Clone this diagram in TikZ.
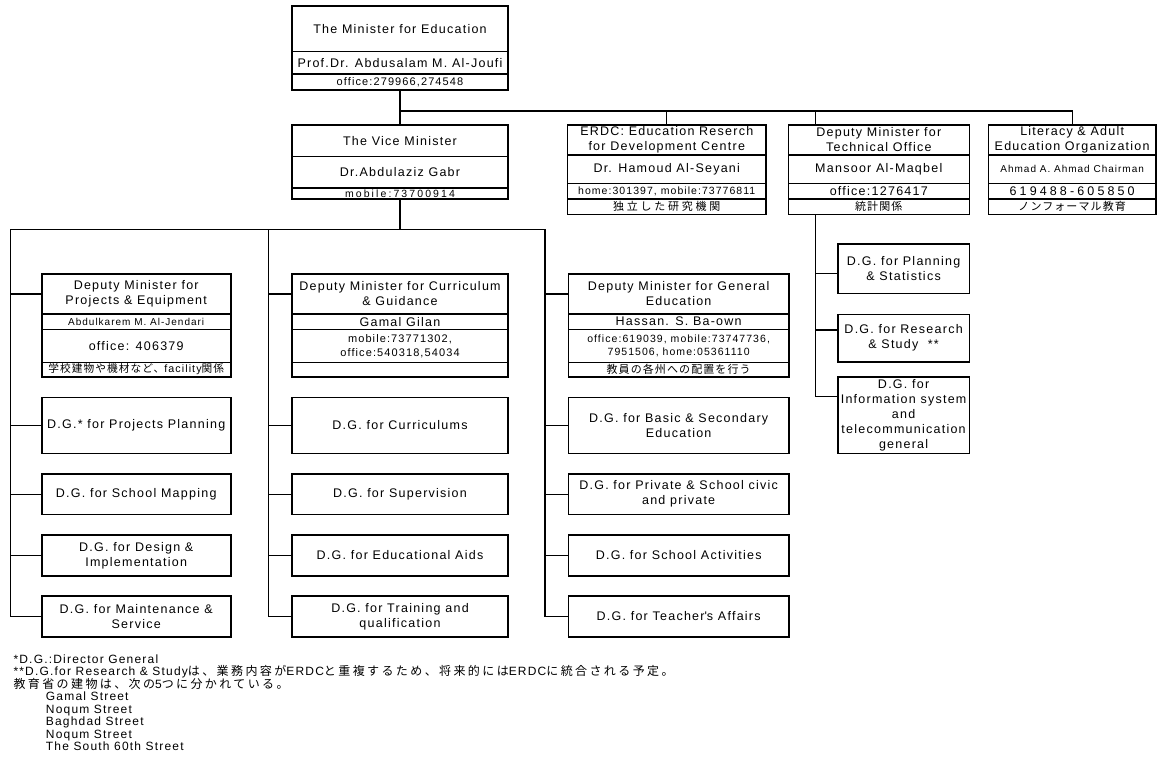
\documentclass[tikz,border=0pt]{standalone}
\usepackage{fontspec}
\setmainfont{Liberation Sans}[LetterSpace=10]
\newfontfamily\jpfont{Noto Sans CJK JP}[LetterSpace=10]
\newfontfamily\jpwide{Noto Sans CJK JP}[LetterSpace=20]
\usetikzlibrary{positioning}
\newcommand\fsz[2]{\fontsize{#1}{#2}\selectfont}

\tikzset{
  cell/.style={draw, line width=1.1pt, minimum width=#1, inner sep=0.5pt, outer sep=0pt, align=center, font=\fsz{12.5}{15}},
  dgbox/.style={cell=#1, line width=1.6pt},
  boxframe/.style={draw, line width=1.6pt},
  wire/.style={draw, line width=1.3pt, line cap=rect},
  telfont/.style={font=\fsz{10.5}{12.7}},
  tinyfont/.style={font=\fsz{10}{11}},
  jptext/.style={font=\fsz{11}{12}\jpfont},
  note/.style={anchor=base west, inner sep=0pt, font=\fsz{12}{12.5}},
}

\begin{document}
\begin{tikzpicture}[x=1pt, y=-1pt]
\useasboundingbox[fill=white] (0,0) rectangle (1157,774);

% minister
\node[cell=216pt, minimum height=45.7pt, anchor=north] (minTitle) at (400,6) {The Minister for Education};
\node[cell=216pt, minimum height=22.3pt, below=0pt of minTitle] (minName) {Prof.Dr. Abdusalam M. Al-Joufi};
\node[cell=216pt, minimum height=16pt, below=0pt of minName, font=\fsz{11}{12}] (minTel) {office:279966,274548};
\draw[boxframe] (minTitle.north west) rectangle (minTel.south east);

% vice minister
\node[cell=216pt, minimum height=31.5pt, anchor=north] (viceTitle) at (400,125) {The Vice Minister};
\node[cell=216pt, minimum height=31.5pt, below=0pt of viceTitle] (viceName) {Dr.Abdulaziz Gabr};
\node[cell=216pt, minimum height=11pt, below=0pt of viceName, font=\fsz{10.5}{11}\addfontfeature{LetterSpace=20}] (viceTel) {mobile:73700914};
\draw[boxframe] (viceTitle.north west) rectangle (viceTel.south east);

% ERDC
\node[cell=198.5pt, minimum height=30pt, anchor=north] (erdcTitle) at (666.75,125) {ERDC: Education Reserch\\for Development Centre};
\node[cell=198.5pt, minimum height=28.5pt, below=0pt of erdcTitle] (erdcName) {Dr. Hamoud Al-Seyani};
\node[cell=198.5pt, minimum height=15.5pt, below=0pt of erdcName, telfont] (erdcTel) {home:301397, mobile:73776811};
\node[cell=198.5pt, minimum height=15.5pt, below=0pt of erdcTel, font=\fsz{11}{12}\jpfont\addfontfeature{LetterSpace=25}] (erdcJp) {独立した研究機関};
\draw[boxframe] (erdcTitle.north west) rectangle (erdcJp.south east);

% technical office
\node[cell=181pt, minimum height=30pt, anchor=north] (techTitle) at (878.8,125) {Deputy Minister for\\Technical Office};
\node[cell=181pt, minimum height=28.5pt, below=0pt of techTitle] (techName) {Mansoor Al-Maqbel};
\node[cell=181pt, minimum height=15.5pt, below=0pt of techName] (techTel) {office:1276417};
\node[cell=181pt, minimum height=15.5pt, below=0pt of techTel, jptext] (techJp) {統計関係};
\draw[boxframe] (techTitle.north west) rectangle (techJp.south east);

% literacy
\node[cell=167.7pt, minimum height=30pt, anchor=north] (litTitle) at (1072.15,125) {Literacy \& Adult\\Education Organization};
\node[cell=167.7pt, minimum height=28.5pt, below=0pt of litTitle, tinyfont] (litName) {Ahmad A. Ahmad Chairman};
\node[cell=167.7pt, minimum height=15.5pt, below=0pt of litName, font=\fsz{12.5}{15}\addfontfeature{LetterSpace=25}] (litTel) {619488-605850};
\node[cell=167.7pt, minimum height=15.5pt, below=0pt of litTel, jptext] (litJp) {ノンフォーマル教育};
\draw[boxframe] (litTitle.north west) rectangle (litJp.south east);

% top bus
\coordinate (hub) at (400,111);
\coordinate (techX) at (815.7,111);
\draw[wire] (minTel.south) -- (viceTitle.north);
\draw[wire] (hub) -| (litTitle.north);
\draw[wire] (hub -| erdcTitle.north) -- (erdcTitle.north);
\draw[wire] (techX) -- (techX |- techTitle.north);

% technical office D.G.s
\node[dgbox=131.8pt, minimum height=49.3pt, anchor=north] (dgPlan) at (903.6,244) {D.G. for Planning\\\& Statistics};
\node[dgbox=131.8pt, minimum height=47.4pt, anchor=north] (dgRes) at (903.6,314.3) {D.G. for Research\\\& Study~~**};
\node[dgbox=131.8pt, minimum height=76.6pt, anchor=north] (dgInfo) at (903.6,376.7) {D.G. for\\Information system\\and\\telecommunication\\general};
\coordinate (planIn) at ([yshift=-4.6pt]dgPlan.west);
\coordinate (resIn) at ([yshift=8pt]dgRes.west);
\coordinate (infoIn) at ([yshift=-20pt]dgInfo.north west);
\draw[wire] (techX |- techJp.south) |- (infoIn);
\draw[wire] (planIn -| techX) -- (planIn);
\draw[wire] (resIn -| techX) -- (resIn);

% lower bus
\coordinate (deptBus) at (400,229.5);
\coordinate (col1) at (10.7,229.5);
\coordinate (col2) at (268.3,229.5);
\coordinate (col3) at (545,229.5);
\draw[wire] (viceTel.south) -- (deptBus);
\draw[wire] (col1) -- (col3);

% projects & equipment
\node[cell=189pt, minimum height=40pt, anchor=north] (dOneTitle) at (136.2,274) {Deputy Minister for\\Projects \& Equipment};
\node[cell=189pt, minimum height=15.3pt, below=0pt of dOneTitle, tinyfont] (dOneName) {Abdulkarem M. Al-Jendari};
\node[cell=189pt, minimum height=33pt, below=0pt of dOneName] (dOneTel) {office: 406379};
\node[cell=189pt, minimum height=14.4pt, below=0pt of dOneTel, font=\fsz{10.7}{12}] (dOneJp) {{\jpfont 学校建物や機材など、}facility{\jpfont 関係}};
\draw[boxframe] (dOneTitle.north west) rectangle (dOneJp.south east);

% curriculum & guidance
\node[cell=216pt, minimum height=40pt, anchor=north] (dTwoTitle) at (400,274) {Deputy Minister for Curriculum\\\& Guidance};
\node[cell=216pt, minimum height=15.3pt, below=0pt of dTwoTitle] (dTwoName) {Gamal Gilan};
\node[cell=216pt, minimum height=33pt, below=0pt of dTwoName, font=\fsz{11}{14}] (dTwoTel) {mobile:73771302,\\office:540318,54034};
\node[cell=216pt, minimum height=14.4pt, below=0pt of dTwoTel] (dTwoJp) {};
\draw[boxframe] (dTwoTitle.north west) rectangle (dTwoJp.south east);

% general education
\node[cell=220.7pt, minimum height=40pt, anchor=north] (dThreeTitle) at (678.65,274) {Deputy Minister for General\\Education};
\node[cell=220.7pt, minimum height=15.3pt, below=0pt of dThreeTitle] (dThreeName) {Hassan. S. Ba-own};
\node[cell=220.7pt, minimum height=33pt, below=0pt of dThreeName, telfont] (dThreeTel) {office:619039, mobile:73747736,\\7951506, home:05361110};
\node[cell=220.7pt, minimum height=14.4pt, below=0pt of dThreeTel, jptext] (dThreeJp) {教員の各州への配置を行う};
\draw[boxframe] (dThreeTitle.north west) rectangle (dThreeJp.south east);

\draw[wire] (col1 |- dOneTitle.west) -- (dOneTitle.west);
\draw[wire] (col2 |- dTwoTitle.west) -- (dTwoTitle.west);
\draw[wire] (col3 |- dThreeTitle.west) -- (dThreeTitle.west);

% directors general
\foreach \t/\y/\h [count=\i] in
    { {D.G.* for Projects Planning}/397.3/56
    , {D.G. for School Mapping}/474/40.3
    , {D.G. for Design \& \\ Implementation}/535/40.7
    , {D.G. for Maintenance \& \\ Service}/596/40.7
    }
{\node[dgbox=189pt, minimum height=\h pt, anchor=north] (cOne\i) at (136.2,\y) {\t};
 \draw[wire] (col1 |- cOne\i.west) -- (cOne\i.west);
}
\foreach \t/\y/\h [count=\i] in
    { {D.G. for Curriculums}/397.3/56
    , {D.G. for Supervision}/474/40.3
    , {D.G. for Educational Aids}/535/40.7
    , {D.G. for Training and\\qualification}/596/40.7
    }
{\node[dgbox=216pt, minimum height=\h pt, anchor=north] (cTwo\i) at (400,\y) {\t};
 \draw[wire] (col2 |- cTwo\i.west) -- (cTwo\i.west);
}
\foreach \t/\y/\h [count=\i] in
    { {D.G. for Basic \& Secondary\\Education}/397.3/56
    , {D.G. for Private \& School civic\\and private}/474/40.3
    , {D.G. for School Activities}/535/40.7
    , {D.G. for Teacher\textquotesingle s Affairs}/596/40.7
    }
{\node[dgbox=220.7pt, minimum height=\h pt, anchor=north] (cThree\i) at (678.65,\y) {\t};
 \draw[wire] (col3 |- cThree\i.west) -- (cThree\i.west);
}
\draw[wire] (col1) |- (cOne4.west);
\draw[wire] (col2) |- (cTwo4.west);
\draw[wire] (col3) |- (cThree4.west);

% notes
\node[note] (noteA) at (13.3,663.3) {*D.G.:Director General};
\node[note] (noteB) at (13.3,675.8) {**D.G.for Research \& Study{\jpwide は、業務内容が}ERDC{\jpwide と重複するため、将来的には}ERDC{\jpwide に統合される予定。}};
\node[note] (noteC) at (13.3,688.3) {{\jpwide 教育省の建物は、次の}5{\jpwide つに分かれている。}};
\foreach \l [count=\i] in {Gamal Street, Noqum Street, Baghdad Street, Noqum Street, The South 60th Street}
  \node[note] (street\i) at (45.7,688.3+12.5*\i) {\l};
\end{tikzpicture}
\end{document}
